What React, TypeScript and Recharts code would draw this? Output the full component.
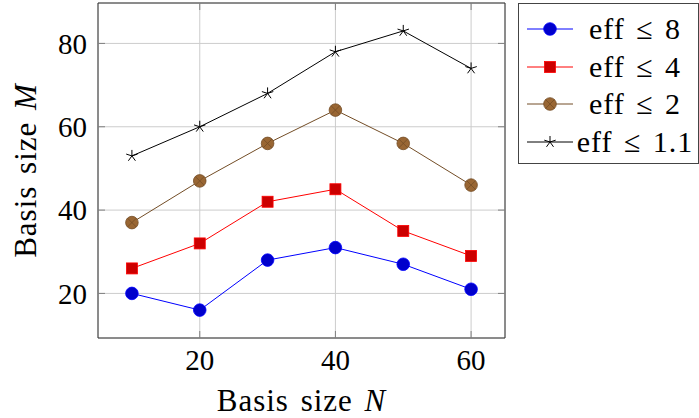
import {
  CartesianGrid,
  Label,
  Line,
  LineChart,
  ReferenceArea,
  XAxis,
  YAxis,
} from 'recharts';

const basisN = [10, 20, 30, 40, 50, 60];
const eff8 = [20, 16, 28, 31, 27, 21];
const eff4 = [26, 32, 42, 45, 35, 29];
const eff2 = [37, 47, 56, 64, 56, 46];
const eff11 = [53, 60, 68, 78, 83, 74];

const xTicks = [20, 40, 60];
const yTicks = [20, 40, 60, 80];
const xDomain: [number, number] = [5, 65];
const yDomain: [number, number] = [9.3, 89.7];

const FONT = "'Liberation Serif', 'DejaVu Serif', serif";
const FS = 29;
const TITLE_FS = 31;

// plot frame (pixels) — used for the inward tick marks
const PLOT = { left: 98, right: 505, top: 3, bottom: 338 };
const TICK_LEN = 7;

type Marker = 'circle' | 'square' | 'otimes' | 'star';

interface Series {
  key: string;
  label: string;
  values: number[];
  stroke: string;
  fill: string;
  marker: Marker;
}

const SERIES: Series[] = [
  { key: 'e8', label: '8', values: eff8, stroke: '#0000ff', fill: '#0000cc', marker: 'circle' },
  { key: 'e4', label: '4', values: eff4, stroke: '#ff0000', fill: '#cc0000', marker: 'square' },
  { key: 'e2', label: '2', values: eff2, stroke: '#734d26', fill: '#996633', marker: 'otimes' },
  { key: 'e11', label: '1.1', values: eff11, stroke: '#000000', fill: '#000000', marker: 'star' },
];

const rows = basisN.map((n, i) => {
  const row: Record<string, number> = { n };
  SERIES.forEach((s) => {
    row[s.key] = s.values[i];
  });
  return row;
});

function MarkerShape({ cx, cy, s }: { cx: number; cy: number; s: Series }) {
  if (s.marker === 'circle') {
    return <circle cx={cx} cy={cy} r={6.3} fill={s.fill} stroke={s.stroke} strokeWidth={0.8} />;
  }
  if (s.marker === 'square') {
    return (
      <rect x={cx - 5.5} y={cy - 5.5} width={11} height={11} fill={s.fill} stroke={s.stroke} strokeWidth={0.8} />
    );
  }
  if (s.marker === 'otimes') {
    const d = 6.3 * Math.SQRT1_2;
    return (
      <g>
        <circle cx={cx} cy={cy} r={6.3} fill={s.fill} stroke={s.stroke} strokeWidth={0.8} />
        <path
          d={`M${cx - d},${cy - d}L${cx + d},${cy + d}M${cx - d},${cy + d}L${cx + d},${cy - d}`}
          stroke={s.stroke}
          strokeWidth={0.8}
        />
      </g>
    );
  }
  const r = 6;
  let d = '';
  for (let k = 0; k < 5; k++) {
    const a = -Math.PI / 2 + (k * 2 * Math.PI) / 5;
    d += `M${cx},${cy}L${cx + r * Math.cos(a)},${cy + r * Math.sin(a)}`;
  }
  return <path d={d} stroke={s.stroke} strokeWidth={1} fill="none" />;
}

function makeDot(s: Series) {
  return (props: any) => {
    const { cx, cy, index } = props;
    if (cx == null || cy == null) return <g key={`${s.key}-${index}`} />;
    return (
      <g key={`${s.key}-${index}`}>
        <MarkerShape cx={cx} cy={cy} s={s} />
      </g>
    );
  };
}

function XTick(props: any) {
  const { x, y, payload } = props;
  const px = props.payload?.coordinate ?? x;
  return (
    <g>
      <line x1={px} x2={px} y1={PLOT.bottom} y2={PLOT.bottom - TICK_LEN} stroke="#808080" />
      <line x1={px} x2={px} y1={PLOT.top} y2={PLOT.top + TICK_LEN} stroke="#808080" />
      <text x={x} y={y} dy="0.71em" textAnchor="middle" style={{ fontFamily: FONT }} fontSize={FS} fill="#000">
        {payload.value}
      </text>
    </g>
  );
}

function YTick(props: any) {
  const { x, y, payload } = props;
  const py = props.payload?.coordinate ?? y;
  return (
    <g>
      <line x1={PLOT.left} x2={PLOT.left + TICK_LEN} y1={py} y2={py} stroke="#808080" />
      <line x1={PLOT.right} x2={PLOT.right - TICK_LEN} y1={py} y2={py} stroke="#808080" />
      <text x={x} y={y} dy="0.355em" textAnchor="end" style={{ fontFamily: FONT }} fontSize={FS} fill="#000">
        {payload.value}
      </text>
    </g>
  );
}

function XLabel(props: any) {
  const { viewBox } = props;
  const cx = viewBox.x + viewBox.width / 2;
  return (
    <text
      x={cx}
      y={411}
      textAnchor="middle"
      style={{ fontFamily: FONT, letterSpacing: 1, wordSpacing: 3 }}
      fontSize={TITLE_FS}
      fill="#000"
    >
      Basis size <tspan fontStyle="italic">N</tspan>
    </text>
  );
}

function YLabel(props: any) {
  const { viewBox } = props;
  const cy = viewBox.y + viewBox.height / 2;
  const x = 36;
  return (
    <text
      x={x}
      y={cy}
      transform={`rotate(-90 ${x} ${cy})`}
      textAnchor="middle"
      style={{ fontFamily: FONT, letterSpacing: 1, wordSpacing: 3 }}
      fontSize={TITLE_FS}
      fill="#000"
    >
      Basis size <tspan fontStyle="italic">M</tspan>
    </text>
  );
}

function LegendBox() {
  return (
    <div
      style={{
        position: 'absolute',
        left: 518,
        top: 3,
        width: 179,
        height: 159,
        border: '1px solid #444',
        background: '#fff',
        fontFamily: FONT,
        fontSize: 30,
      }}
    >
      {SERIES.map((s, i) => {
        const cy = 25 + i * 37.5;
        return (
          <div key={s.key} style={{ position: 'absolute', left: 0, top: cy - 18, height: 36, width: 179 }}>
            <svg width={60} height={36} style={{ position: 'absolute', left: 8, top: 0 }}>
              <line x1={0} x2={46} y1={18} y2={18} stroke={s.stroke} strokeWidth={1} />
              <MarkerShape cx={23} cy={18} s={s} />
            </svg>
            <div
              style={{
                position: 'absolute',
                left: 54,
                width: 124,
                top: 0,
                lineHeight: '36px',
                textAlign: 'center',
                whiteSpace: 'nowrap',
                letterSpacing: 1,
                wordSpacing: 3,
              }}
            >
              eff ≤ {s.label}
            </div>
          </div>
        );
      })}
    </div>
  );
}

export default function App() {
  return (
    <div style={{ position: 'relative', width: 699, height: 418, background: '#fff', fontFamily: FONT }}>
      <style>{'body{margin:0}'}</style>
      <LineChart
        width={699}
        height={418}
        data={rows}
        margin={{ top: PLOT.top, right: 699 - PLOT.right, left: 0, bottom: 0 }}
      >
        <CartesianGrid stroke="#cccccc" strokeWidth={1} />
        <XAxis
          dataKey="n"
          type="number"
          domain={xDomain}
          ticks={xTicks}
          axisLine={false}
          tickLine={false}
          tickSize={0}
          tickMargin={11}
          height={418 - PLOT.bottom}
          tick={<XTick />}
          interval={0}
        >
          <Label content={<XLabel />} />
        </XAxis>
        <YAxis
          type="number"
          domain={yDomain}
          ticks={yTicks}
          axisLine={false}
          tickLine={false}
          tickSize={0}
          tickMargin={11}
          width={PLOT.left}
          tick={<YTick />}
          interval={0}
        >
          <Label content={<YLabel />} />
        </YAxis>
        <ReferenceArea
          x1={xDomain[0]}
          x2={xDomain[1]}
          y1={yDomain[0]}
          y2={yDomain[1]}
          fill="none"
          stroke="#333"
          strokeWidth={1}
          fillOpacity={0}
          strokeOpacity={1}
        />
        {SERIES.map((s) => (
          <Line
            key={s.key}
            dataKey={s.key}
            stroke={s.stroke}
            strokeWidth={1}
            dot={makeDot(s)}
            activeDot={false}
            isAnimationActive={false}
          />
        ))}
      </LineChart>
      <LegendBox />
    </div>
  );
}
